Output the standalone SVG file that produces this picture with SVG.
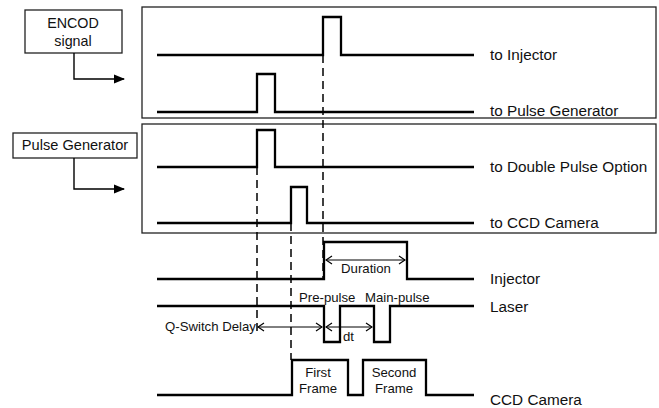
<svg xmlns="http://www.w3.org/2000/svg" width="659" height="408" viewBox="0 0 659 408">
<defs>
<style>
text{font-family:"Liberation Sans",Arial,sans-serif;fill:#111}
.lbl{font-size:15.3px}
.sm{font-size:13.2px}
.box{fill:none;stroke:#222;stroke-width:1.3}
.sig{fill:none;stroke:#000;stroke-width:2.3;stroke-linejoin:miter}
.dash{fill:none;stroke:#000;stroke-width:1.5;stroke-dasharray:8,5}
.conn{fill:none;stroke:#000;stroke-width:1.4}
.dim{fill:none;stroke:#000;stroke-width:1;marker-start:url(#open);marker-end:url(#open)}
</style>
<marker id="fill" markerWidth="11" markerHeight="10" refX="10" refY="5" orient="auto" markerUnits="userSpaceOnUse">
<path d="M0,0.5 L11,5 L0,9.5 Z" fill="#000"/>
</marker>
<marker id="open" markerWidth="8" markerHeight="10" refX="7" refY="5" orient="auto-start-reverse" markerUnits="userSpaceOnUse">
<path d="M1,1 L7,5 L1,9" fill="none" stroke="#000" stroke-width="1.2"/>
</marker>
</defs>
<rect width="659" height="408" fill="#fff"/>

<g id="frame1"><rect class="box" x="142" y="7" width="514" height="111"/></g>
<g id="frame2"><rect class="box" x="142" y="124" width="514" height="109"/></g>

<g id="encod">
<rect class="box" x="25" y="10" width="97" height="43"/>
<text x="73" y="28" text-anchor="middle" style="font-size:14.3px">ENCOD</text>
<text x="73" y="46" text-anchor="middle" style="font-size:14.3px">signal</text>
</g>
<g id="pulsegen">
<rect class="box" x="13" y="133" width="124" height="25"/>
<text x="75" y="150" text-anchor="middle" style="font-size:14.6px">Pulse Generator</text>
</g>

<g id="connectors">
<path class="conn" d="M74,53 V79 H124" marker-end="url(#fill)"/>
<path class="conn" d="M74,158 V189 H124" marker-end="url(#fill)"/>
<path class="dash" d="M323,55 V279"/>
<path class="dash" d="M257,167 V336"/>
<path class="dash" d="M291,223 V360"/>
</g>

<g id="sig-injector-trig">
<path class="sig" d="M157,55 H323 V17 H341 V55 H474"/>
<text class="lbl" x="490" y="60">to Injector</text>
</g>
<g id="sig-pulsegen-trig">
<path class="sig" d="M157,112 H257 V74 H275 V112 H474"/>
<text class="lbl" x="490" y="116">to Pulse Generator</text>
</g>
<g id="sig-double">
<path class="sig" d="M157,167 H257 V130 H275 V167 H474"/>
<text class="lbl" x="490" y="172">to Double Pulse Option</text>
</g>
<g id="sig-ccd-trig">
<path class="sig" d="M157,223 H291 V187 H307 V223 H474"/>
<text class="lbl" x="490" y="228">to CCD Camera</text>
</g>

<g id="sig-injector">
<path class="sig" d="M157,279 H324 V242 H407 V279 H474"/>
<path class="dim" d="M326,260 H405"/>
<text class="sm" x="366" y="273" text-anchor="middle">Duration</text>
<text class="lbl" x="490" y="284">Injector</text>
</g>
<g id="sig-laser">
<path class="sig" d="M157,306 H324 V342 H340 V306 H374 V342 H390 V306 H474"/>
<text class="sm" x="299" y="302">Pre-pulse</text>
<text class="sm" x="365" y="302">Main-pulse</text>
<text class="lbl" x="490" y="312">Laser</text>
<path class="dim" d="M258,327 H322"/>
<path class="dim" d="M326,327 H372"/>
<text class="sm" x="165" y="331">Q-Switch Delay</text>
<text class="sm" x="343" y="341">dt</text>
</g>
<g id="sig-ccd">
<path class="sig" d="M157,395 H292 V360 H348 V395 H363 V360 H426 V395 H474"/>
<text class="sm" x="318" y="377" text-anchor="middle">First</text>
<text class="sm" x="318" y="393" text-anchor="middle">Frame</text>
<text class="sm" x="394" y="377" text-anchor="middle">Second</text>
<text class="sm" x="394" y="393" text-anchor="middle">Frame</text>
<text class="lbl" x="490" y="405">CCD Camera</text>
</g>
</svg>
